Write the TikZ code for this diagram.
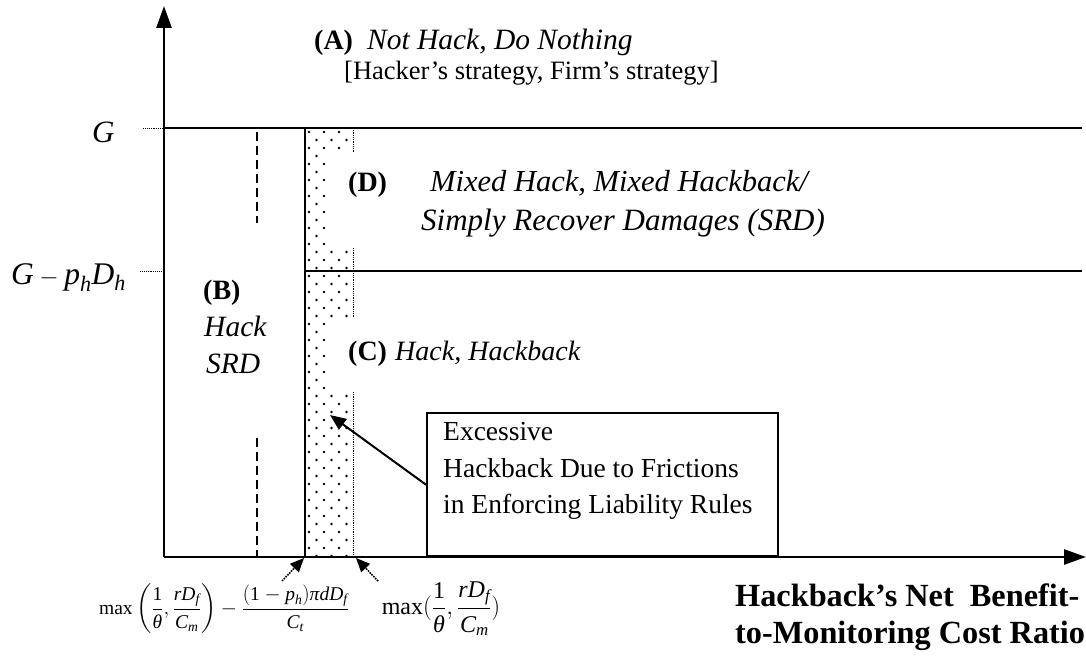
\documentclass[tikz,border=0pt]{standalone}
\usepackage{amsmath}
\usepackage{fontspec}
\setmainfont{Liberation Serif}
\usetikzlibrary{arrows.meta}
% italic and upright text-font pieces inside formulas
\newcommand\mv[1]{\text{\itshape #1}}
\newcommand\up[1]{\text{#1}}
\begin{document}
\begin{tikzpicture}[x=1pt,y=-1pt,
  axis/.style={line width=2.6pt,-{Triangle[length=22pt,width=15pt]}},
  bound/.style={line width=2.6pt},
  thinbound/.style={line width=1.8pt},
  tick/.style={densely dotted,line width=0.9pt},
  halfdash/.style={dashed,dash pattern=on 9pt off 5pt,line width=1.6pt},
  dotedge/.style={densely dotted,line width=0.8pt},
  ptr/.style={line width=2pt,-{Triangle[length=16pt,width=13pt]}},
  dptr/.style={densely dotted,line width=1.6pt,-{Triangle[length=14pt,width=12pt]}},
  lbl/.style={anchor=base west,inner sep=0pt,font=\fontsize{28}{32}\selectfont},
  itl/.style={anchor=base west,inner sep=0pt,font=\fontsize{29.5}{34}\selectfont\itshape},
  boxtxt/.style={anchor=base west,inner sep=0pt,font=\fontsize{27.5}{32}\selectfont},
  ttl/.style={anchor=base west,inner sep=0pt,font=\fontsize{32.3}{36}\selectfont\bfseries},
  frm/.style={inner sep=0pt,font=\fontsize{19.5}{22}\selectfont}]
\useasboundingbox (0,0) rectangle (1086,663);

% axes
\coordinate (O) at (164,557);
\coordinate (ytop) at (164,6);
\coordinate (xend) at (1086,557);

% dotted band of excessive hackback
\begin{scope}
  \clip (305,128) -- (353,128) -- (353,152) -- (328,152) -- (328,248) -- (353,248)
        -- (353,318) -- (328,318) -- (328,392) -- (353,392) -- (353,557) -- (305,557) -- cycle;
  \foreach \r in {0,...,54}{
    \pgfmathsetmacro\yy{132+8*\r}
    \pgfmathsetmacro\off{mod(\r,2)*7.5}
    \foreach \c in {0,...,3}{
      \fill (309+\off+15*\c,\yy) circle (1.3);
    }
  }
\end{scope}
\draw[dotedge] (353,128) -- (353,152);
\draw[dotedge] (353,248) -- (353,318);
\draw[dotedge] (353,392) -- (353,557);

% region boundaries
\coordinate (gL) at (164,128);
\coordinate (gR) at (1082,128);
\coordinate (hL) at (305,271);
\coordinate (hR) at (1082,271);
\coordinate (vT) at (305,128);
\coordinate (vB) at (305,557);
\draw[bound] (gL) -- (gR);
\draw[thinbound] (hL) -- (hR);
\draw[bound] (vT) -- (vB);
\draw[halfdash] (257,132) -- (257,223);
\draw[halfdash] (257,438) -- (257,557);

\draw[axis] (O) -- (ytop);
\draw[axis] (O) -- (xend);

% axis ticks and labels
\coordinate (gt1) at (143,128);
\coordinate (ht1) at (140,271);
\draw[tick] (gt1) -- (gL);
\draw[tick] (ht1) -- (164,271);
\node[lbl,font=\fontsize{31}{34}\selectfont] (G) at (92,143) {$\mv{G}$};
\node[lbl,font=\fontsize{31.5}{34}\selectfont] (Gph) at (11,284) {$\mv{G}-\mv{p}_{\mv{h}}\mv{D}_{\mv{h}}$};

% region labels
\node[lbl] (Atitle) at (314,50) {\textbf{(A)}\ \ \textit{\fontsize{29.5}{34}\selectfont Not Hack, Do Nothing}};
\node[lbl,font=\fontsize{26.5}{30}\selectfont] (Asub) at (344,80) {[Hacker’s strategy, Firm’s strategy]};
\node[lbl] (Dtitle) at (348,191) {\textbf{(D)}};
\node[itl,font=\fontsize{30.5}{34}\selectfont\itshape] (Dl1) at (430,191) {Mixed Hack, Mixed Hackback/};
\node[itl,font=\fontsize{31}{34}\selectfont\itshape] (Dl2) at (421,230) {Simply Recover Damages (SRD)};
\node[lbl] (Btitle) at (203,299) {\textbf{(B)}};
\node[itl] (Bl1) at (204,336) {Hack};
\node[itl] (Bl2) at (206,373) {SRD};
\node[lbl] (Ctitle) at (348,360) {\textbf{(C)}};
\node[itl,font=\fontsize{28}{32}\selectfont\itshape] (Cl1) at (395,360) {Hack, Hackback};

% note box and pointer
\node[draw,line width=1.6pt,anchor=south west,minimum width=351pt,minimum height=143pt,inner sep=0pt] (box) at (426,557) {};
\node[boxtxt] (b1) at (443,440) {Excessive};
\node[boxtxt] (b2) at (443,477) {Hackback Due to Frictions};
\node[boxtxt] (b3) at (443,513) {in Enforcing Liability Rules};
\coordinate (tgt) at (330,415);
\draw[ptr] (box.west) -- (tgt);

% threshold markers
\coordinate (lo) at (282,581);
\coordinate (loT) at (304,558);
\coordinate (hi) at (378,581);
\coordinate (hiT) at (356,558);
\draw[dptr] (lo) -- (loT);
\draw[dptr] (hi) -- (hiT);
\node[frm] (f1) at (224,609) {$\displaystyle \up{max}\left(\frac{\up{1}}{\mv{θ}},\frac{\mv{rD}_{\mv{f}}}{\mv{C}_{\mv{m}}}\right)-\frac{(\up{1}-\mv{p}_{\mv{h}})\mv{πdD}_{\mv{f}}}{\mv{C}_{\mv{t}}}$};
\node[frm,font=\fontsize{24}{28}\selectfont] (f2) at (441,609) {$\displaystyle \up{max}(\frac{\up{1}}{\mv{θ}},\frac{\mv{rD}_{\mv{f}}}{\mv{C}_{\mv{m}}})$};

% horizontal axis title
\node[ttl] (t1) at (735,606) {Hackback’s Net\ \ Benefit-};
\node[ttl] (t2) at (735,643) {to-Monitoring Cost Ratio};
\end{tikzpicture}
\end{document}
